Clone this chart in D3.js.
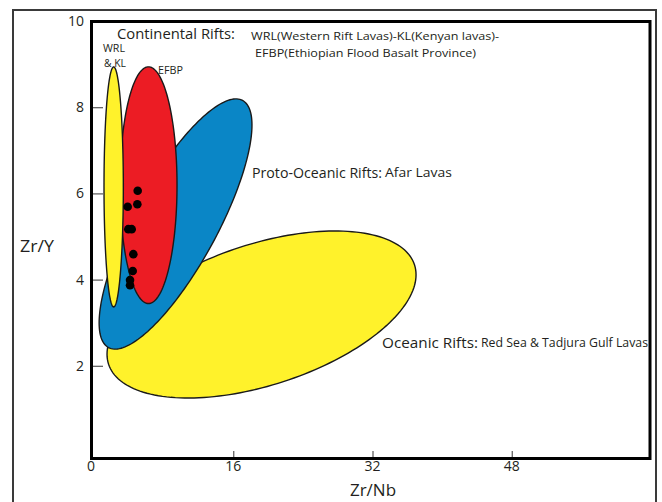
<!DOCTYPE html>
<html>
<head>
<meta charset="utf-8">
<script src="https://cdn.jsdelivr.net/npm/d3@7/dist/d3.min.js"></script>
<style>
  html, body { margin: 0; padding: 0; background: #fff; }
  svg { display: block; }
  text { font-family: "Open Sans", "Noto Sans", sans-serif; fill: #231f20; }
</style>
</head>
<body>
<svg id="chart" width="662" height="502"></svg>
<script>
// ---------------- data ----------------
const xTickValues = [0, 16, 32, 48];
const yTickValues = [2, 4, 6, 8, 10];

// Discrimination fields: centre (Zr/Nb, Zr/Y); semi-axes expressed in Zr/Nb-axis units; tilt in degrees
const fieldNames   = ["Oceanic Rifts", "Proto-Oceanic Rifts", "EFBP", "WRL & KL"];
const fieldCx      = [19.25, 9.37, 6.26, 2.26];
const fieldCy      = [3.19, 5.29, 6.19, 6.15];
const fieldMajor   = [18.48, 16.15, 13.6, 13.79];
const fieldMinor   = [8.11, 4.79, 3.28, 1.11];
const fieldTilt    = [18, 61.5, 90, 90];
const fieldColors  = ["#fff22b", "#0a86c6", "#ec1c24", "#fff22b"];

// Sample points (Zr/Nb, Zr/Y)
const sampleZrNb = [5.02, 4.98, 3.87, 3.94, 4.33, 4.52, 4.45, 4.14, 4.14];
const sampleZrY  = [6.06, 5.75, 5.69, 5.17, 5.17, 4.59, 4.20, 3.99, 3.87];

// ---------------- layout ----------------
const svg = d3.select("#chart");
const frame = { left: 91.5, top: 21.5, right: 650, bottom: 458.5 };
const x = d3.scaleLinear().domain([0, 64]).range([94, 651]);
const y = d3.scaleLinear().domain([0, 10]).range([452, 21]);
const pxPerX = x(1) - x(0);

// outer page frame
svg.append("rect")
  .attr("x", 13).attr("y", 10).attr("width", 643).attr("height", 520)
  .attr("fill", "none").attr("stroke", "#3a3a3a").attr("stroke-width", 2);

// ellipses
function ellipsePath(i) {
  const cx = x(fieldCx[i]), cy = y(fieldCy[i]);
  const a = fieldMajor[i] * pxPerX, b = fieldMinor[i] * pxPerX;
  const t = fieldTilt[i] * Math.PI / 180;
  const pts = d3.range(0, 361, 2).map(d => {
    const u = d * Math.PI / 180;
    const ex = a * Math.cos(u), ey = b * Math.sin(u);
    return [cx + ex * Math.cos(t) - ey * Math.sin(t), cy - ex * Math.sin(t) - ey * Math.cos(t)];
  });
  return d3.line().curve(d3.curveLinearClosed)(pts);
}
svg.append("g").selectAll("path")
  .data(fieldNames)
  .join("path")
  .attr("d", (d, i) => ellipsePath(i))
  .attr("fill", (d, i) => fieldColors[i])
  .attr("stroke", "#1a1a1a")
  .attr("stroke-width", 1.4);

// sample points
svg.append("g").selectAll("circle")
  .data(sampleZrNb)
  .join("circle")
  .attr("cx", (d, i) => x(d))
  .attr("cy", (d, i) => y(sampleZrY[i]))
  .attr("r", 4.3)
  .attr("fill", "#000");

// inner plot frame
svg.append("rect")
  .attr("x", frame.left).attr("y", frame.top)
  .attr("width", frame.right - frame.left).attr("height", frame.bottom - frame.top)
  .attr("fill", "none").attr("stroke", "#000").attr("stroke-width", 3);

// axes (ticks pointing inward)
const yAxis = d3.axisRight(y).tickValues(yTickValues.filter(v => v < 10)).tickSize(10).tickFormat("");
svg.append("g").attr("transform", `translate(${frame.left + 1.5},0)`).call(yAxis)
  .call(g => g.select(".domain").remove())
  .call(g => g.selectAll("line").attr("stroke", "#555").attr("stroke-width", 1.2));

const xAxis = d3.axisTop(x).tickValues(xTickValues.filter(v => v > 0)).tickSize(6).tickFormat("");
svg.append("g").attr("transform", `translate(0,${frame.bottom - 1.5})`).call(xAxis)
  .call(g => g.select(".domain").remove())
  .call(g => g.selectAll("line").attr("stroke", "#555").attr("stroke-width", 1.2));

// tick labels
svg.append("g").selectAll("text")
  .data(yTickValues)
  .join("text")
  .attr("x", 84)
  .attr("y", d => y(d) + 5)
  .attr("text-anchor", "end")
  .attr("font-size", 14)
  .text(d => d);

svg.append("g").selectAll("text")
  .data(xTickValues)
  .join("text")
  .attr("x", d => d === 0 ? x(d) - 3 : x(d))
  .attr("y", 471)
  .attr("text-anchor", "middle")
  .attr("font-size", 14)
  .text(d => d);

// axis titles
svg.append("text").attr("x", 20).attr("y", 252).attr("font-size", 17)
  .attr("textLength", 34).attr("lengthAdjust", "spacingAndGlyphs").text("Zr/Y");
svg.append("text").attr("x", 373).attr("y", 496).attr("text-anchor", "middle").attr("font-size", 17).text("Zr/Nb");

// annotations
function label(xp, yp, size, str, len) {
  const t = svg.append("text").attr("x", xp).attr("y", yp).attr("font-size", size).text(str);
  if (len) t.attr("textLength", len).attr("lengthAdjust", "spacingAndGlyphs");
  return t;
}
label(117, 38.5, 15, "Continental Rifts:", 118);
label(251, 40, 11.5, "WRL(Western Rift Lavas)-KL(Kenyan lavas)-", 248);
label(255, 57, 11.5, "EFBP(Ethiopian Flood Basalt Province)", 221);
label(103, 51.5, 10, "WRL", 22);
label(104, 66.5, 10, "& KL", 22);
label(158, 73.5, 10, "EFBP", 25);
label(252, 177.5, 15, "Proto-Oceanic Rifts:", 130);
label(385, 177, 12, "Afar Lavas", 67);
label(382, 347.5, 15, "Oceanic Rifts:", 96);
label(481, 347, 12, "Red Sea & Tadjura Gulf Lavas", 167);
</script>
</body>
</html>
